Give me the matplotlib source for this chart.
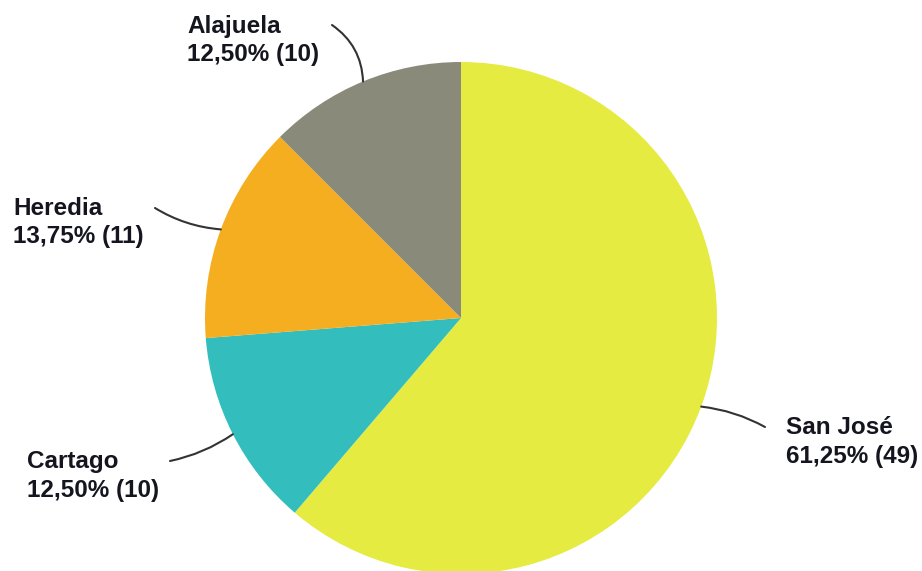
import numpy as np
import matplotlib
matplotlib.use("Agg")
import matplotlib.pyplot as plt

# data
provinces = ["San José", "Cartago", "Heredia", "Alajuela"]
counts = [49, 10, 11, 10]
colors = ["#E5EB41", "#33BDBD", "#F5AE20", "#8A8A7A"]

# label layout (pixel coords, y down): text left/baseline, leader end, curvature
label_pos = {"San José": (786, 434), "Cartago": (27, 468),
             "Heredia": (13, 215), "Alajuela": (187, 33)}
leader_end = {"San José": (765, 427), "Cartago": (170, 461),
              "Heredia": (155, 208), "Alajuela": (332, 25)}
leader_rad = {"San José": 0.1, "Cartago": 0.1, "Heredia": 0.12, "Alajuela": -0.25}

cx, cy, r = 461, 318, 256

fig = plt.figure(figsize=(9.22, 5.71), dpi=100)
ax = fig.add_axes([0, 0, 1, 1])

wedges, _ = ax.pie(counts, colors=colors, startangle=-90, counterclock=True,
                   center=(cx, cy), radius=r, frame=True,
                   wedgeprops=dict(linewidth=0))
ax.set_xlim(0, 922)
ax.set_ylim(571, 0)
ax.axis("off")

total = sum(counts)
for w, name, n in zip(wedges, provinces, counts):
    mid = np.deg2rad((w.theta1 + w.theta2) / 2)
    edge = (cx + r * np.cos(mid), cy + r * np.sin(mid))
    ax.annotate("", xy=edge, xytext=leader_end[name],
                arrowprops=dict(arrowstyle="-", color="#333333", lw=1.5,
                                shrinkA=0, shrinkB=0,
                                connectionstyle="arc3,rad=%s" % leader_rad[name]))
    pct = ("%.2f%%" % (100 * n / total)).replace(".", ",")
    x, y = label_pos[name]
    ax.text(x, y, name, fontsize=17.5, fontweight="bold", family="Liberation Sans",
            color="#15151f", va="baseline", ha="left")
    ax.text(x, y + 28.5, "%s (%d)" % (pct, n), fontsize=17.5, fontweight="bold",
            family="Liberation Sans", color="#15151f", va="baseline", ha="left")

fig.savefig("out.png", dpi=100)
